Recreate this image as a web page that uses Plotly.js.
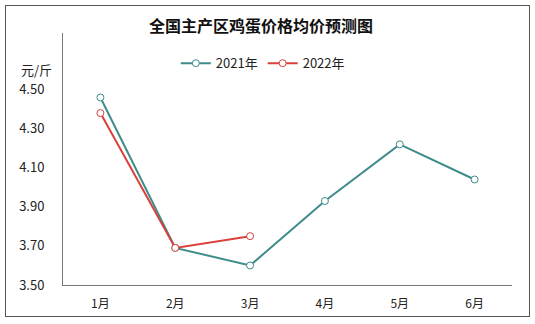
<!DOCTYPE html>
<html><head><meta charset="utf-8">
<script src="https://cdn.plot.ly/plotly-3.0.1.min.js"></script>
<style>body{margin:0;background:#fff}#wrap{position:relative;width:535px;height:324px}#chart{width:535px;height:324px}#frame{position:absolute;left:5px;top:5px;width:523px;height:310px;border:1px solid #555;pointer-events:none}</style>
</head><body><div id="wrap"><div id="chart"></div><div id="frame"></div></div>
<script>
const months = ['1月','2月','3月','4月','5月','6月'];
const months2022 = ['1月','2月','3月'];
const price2021 = [4.46, 3.69, 3.60, 3.93, 4.22, 4.04];
const price2022 = [4.38, 3.69, 3.75];
const yTicks = [3.50, 3.70, 3.90, 4.10, 4.30, 4.50];
const yTickText = ['3.50','3.70','3.90','4.10','4.30','4.50'];
const F = '"Noto Sans CJK SC", "Noto Sans", sans-serif';
const traces = [
  {x: months, y: price2021, name: '2021年', type: 'scatter', mode: 'lines+markers',
   line: {color: '#3d8c8a', width: 2}, marker: {symbol: 'circle', size: 7, color: '#fff', line: {color: '#3d8c8a', width: 1}}},
  {x: months2022, y: price2022, name: '2022年', type: 'scatter', mode: 'lines+markers',
   line: {color: '#d9403c', width: 2}, marker: {symbol: 'circle', size: 7, color: '#fff', line: {color: '#d9403c', width: 1}}}
];
const layout = {
  width: 535, height: 324,
  margin: {l: 63, r: 23, t: 33, b: 39},
  paper_bgcolor: '#fff', plot_bgcolor: '#fff',
  font: {family: F, size: 12, color: '#222'},
  title: {text: '<b>全国主产区鸡蛋价格均价预测图</b>', x: 0.488, xanchor: 'center', y: 0.917, yanchor: 'middle', font: {family: F, size: 16, color: '#111'}},
  showlegend: true,
  legend: {orientation: 'h', x: 0.445, xanchor: 'center', y: 0.88, yanchor: 'middle', font: {family: F, size: 13, color: '#222'}, bgcolor: 'rgba(0,0,0,0)'},
  xaxis: {type: 'category', categoryorder: 'array', categoryarray: months, range: [-0.5, 5.5],
    showline: true, linecolor: '#777', linewidth: 1, showgrid: false, zeroline: false, ticks: '', ticklabelstandoff: 8,
    tickfont: {family: F, size: 12, color: '#222'}},
  yaxis: {range: [3.5, 4.79], tickvals: yTicks, ticktext: yTickText, showline: true, linecolor: '#777', linewidth: 1,
    showgrid: false, zeroline: false, ticks: '', ticklabelstandoff: 15, tickfont: {family: F, size: 13, color: '#222'}},
  annotations: [{text: '元/斤', xref: 'paper', yref: 'paper', x: -0.058, y: 0.855, xanchor: 'center', yanchor: 'middle', showarrow: false, font: {family: F, size: 13, color: '#222'}}]
};
Plotly.newPlot('chart', traces, layout, {displayModeBar: false, staticPlot: true});
</script></body></html>
